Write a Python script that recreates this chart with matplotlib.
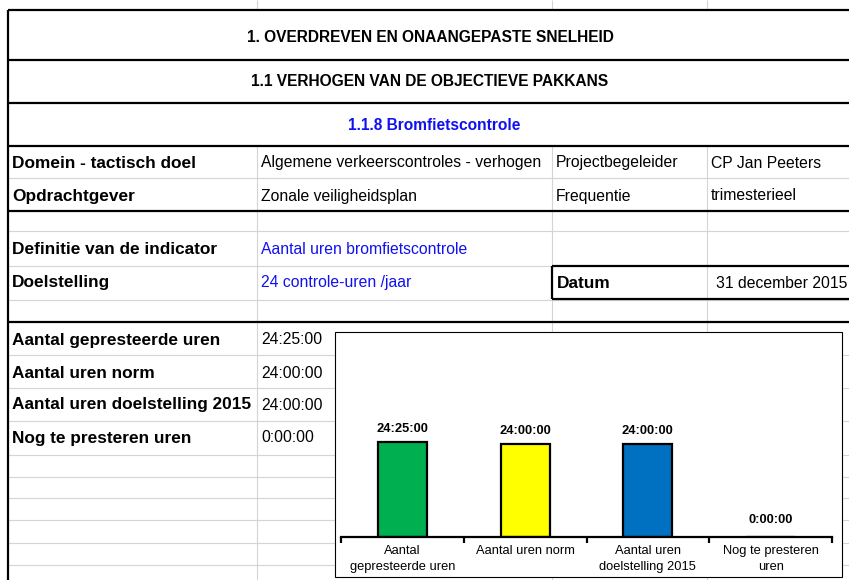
import matplotlib.pyplot as plt
from matplotlib.patches import Rectangle

plt.rcParams['font.family'] = ['Liberation Sans', 'DejaVu Sans']

# table content
titles = ["1. OVERDREVEN EN ONAANGEPASTE SNELHEID",
          "1.1 VERHOGEN VAN DE OBJECTIEVE PAKKANS",
          "1.1.8 Bromfietscontrole"]
info_rows = [["Domein - tactisch doel", "Algemene verkeerscontroles - verhogen", "Projectbegeleider", "CP Jan Peeters"],
             ["Opdrachtgever", "Zonale veiligheidsplan", "Frequentie", "trimesterieel"]]
indicator = ["Definitie van de indicator", "Aantal uren bromfietscontrole"]
goal = ["Doelstelling", "24 controle-uren /jaar", "Datum", "31 december 2015"]
hour_labels = ["Aantal gepresteerde uren", "Aantal uren norm",
               "Aantal uren doelstelling 2015", "Nog te presteren uren"]
hour_texts = ["24:25:00", "24:00:00", "24:00:00", "0:00:00"]

# chart data (hours)
categories = ["Aantal\ngepresteerde uren", "Aantal uren norm",
              "Aantal uren\ndoelstelling 2015", "Nog te presteren\nuren"]
hours = [24 + 25 / 60, 24.0, 24.0, 0.0]
bar_colors = ["#00B050", "#FFFF00", "#0070C0", "#FFFFFF"]

W, H = 849, 580
fig = plt.figure(figsize=(W / 100, H / 100), dpi=100)
ax = fig.add_axes([0, 0, 1, 1])
ax.set_xlim(0, W)
ax.set_ylim(H, 0)
ax.axis('off')

grey = "#D4D4D4"
blue_txt = "#1010F0"
cols = [257, 552, 707]
left = 8

def hline(y, c=grey, lw=0.8, x0=left, x1=W):
    ax.plot([x0, x1], [y, y], color=c, lw=lw, solid_capstyle='butt')

def vline(x, y0, y1, c=grey, lw=0.8):
    ax.plot([x, x], [y0, y1], color=c, lw=lw, solid_capstyle='butt')

# sheet grid above the table
for x in cols:
    vline(x, 0, 10)
for x in cols:
    vline(x, 146, H)

# grey row lines
for y in [178, 231, 300, 355, 388, 421, 455, 477, 498, 520, 543, 565]:
    hline(y)
hline(266, x1=552)

# thick black lines
for y in [10, 60, 103, 146, 211, 322]:
    hline(y, c="black", lw=1.6)
hline(266, c="black", lw=1.6, x0=552)
hline(299, c="black", lw=1.6, x0=552)
vline(552, 266, 299, c="black", lw=1.6)
vline(left, 10, H, c="black", lw=1.6)

# title rows
ax.text(430, 37, titles[0], ha='center', va='center', fontsize=11.2, fontweight='bold')
ax.text(430, 82, titles[1], ha='center', va='center', fontsize=11.2, fontweight='bold')
ax.text(434, 126, titles[2], ha='center', va='center', fontsize=11.2, fontweight='bold', color=blue_txt)

xs = [12, 261, 556, 711]
fs = 11.3
fb = 12.4
for row, y in zip(info_rows, [163, 196]):
    for i, (x, t) in enumerate(zip(xs, row)):
        ax.text(x, y, t, ha='left', va='center', fontsize=fb if i == 0 else fs,
                fontweight='bold' if i == 0 else 'normal')

ax.text(xs[0], 250, indicator[0], ha='left', va='center', fontsize=fb, fontweight='bold')
ax.text(xs[1], 250, indicator[1], ha='left', va='center', fontsize=fs, color=blue_txt)

ax.text(xs[0], 283, goal[0], ha='left', va='center', fontsize=fb, fontweight='bold')
ax.text(xs[1], 283, goal[1], ha='left', va='center', fontsize=fs, color=blue_txt)
ax.text(557, 283, goal[2], ha='left', va='center', fontsize=fb, fontweight='bold')
ax.text(716, 283, goal[3], ha='left', va='center', fontsize=fs)

for lab, t, y in zip(hour_labels, hour_texts, [340, 373, 405, 438]):
    ax.text(xs[0], y, lab, ha='left', va='center', fontsize=fb, fontweight='bold')
    ax.text(xs[1], y, t, ha='left', va='center', fontsize=fs)

# chart box
ax.add_patch(Rectangle((335, 332), 507, 245, facecolor='white', edgecolor='black', lw=0.8, zorder=5))

base_y, top_y = 537, 350
cax = fig.add_axes([341 / W, (H - base_y) / H, (832 - 341) / W, (base_y - top_y) / H])
cax.set_zorder(10)
cax.patch.set_alpha(0)
xpos = list(range(len(hours)))
bars = cax.bar(xpos, hours, width=0.4, color=bar_colors, edgecolor='black', linewidth=1.6)
cax.set_xlim(-0.5, len(hours) - 0.5)
cax.set_ylim(0, 48)
for s in ['top', 'right', 'left']:
    cax.spines[s].set_visible(False)
cax.spines['bottom'].set_linewidth(1.6)
cax.set_yticks([])
cax.set_xticks([i - 0.5 for i in range(len(hours) + 1)])
cax.set_xticklabels([])
cax.tick_params(axis='x', which='major', length=4, width=1.6, direction='out')
cax.set_xticks(xpos, minor=True)
cax.set_xticklabels(categories, minor=True, fontsize=9.3, linespacing=1.4)
cax.tick_params(axis='x', which='minor', length=0, pad=6)
for x, h, t in zip(xpos, hours, hour_texts):
    cax.annotate(t, (x, h), xytext=(0, 5 if h > 0 else 8), textcoords='offset points',
                 ha='center', va='bottom', fontsize=9.3, fontweight='bold')

fig.savefig("out.png", dpi=100)
